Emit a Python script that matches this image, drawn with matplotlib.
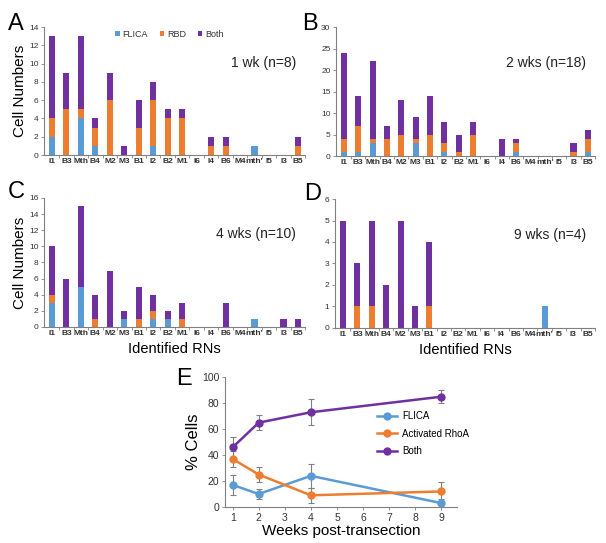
import numpy as np
import matplotlib
matplotlib.use("Agg")
import matplotlib.pyplot as plt
from matplotlib import font_manager
from matplotlib.lines import Line2D

plt.rcParams["font.family"] = ["Liberation Sans", "DejaVu Sans"]

# neuron labels on x axis
rns = ["I1", "B3", "Mth", "B4", "M2", "M3", "B1", "I2", "B2", "M1",
       "I6", "I4", "B6", "M4", "mth'", "I5", "I3", "B5"]

# stacked counts per panel: FLICA, RBD, Both
wk1_flica = [2, 0, 4, 1, 0, 0, 0, 1, 0, 0, 0, 0, 0, 0, 1, 0, 0, 0]
wk1_rbd = [2, 5, 1, 2, 6, 0, 3, 5, 4, 4, 0, 1, 1, 0, 0, 0, 0, 1]
wk1_both = [9, 4, 8, 1, 3, 1, 3, 2, 1, 1, 0, 1, 1, 0, 0, 0, 0, 1]

wk2_flica = [1, 1, 3, 0, 0, 3, 0, 1, 0, 0, 0, 0, 1, 0, 0, 0, 0, 1]
wk2_rbd = [3, 6, 1, 4, 5, 1, 5, 2, 1, 5, 0, 0, 2, 0, 0, 0, 1, 3]
wk2_both = [20, 7, 18, 3, 8, 5, 9, 5, 4, 3, 0, 4, 1, 0, 0, 0, 2, 2]

wk4_flica = [3, 0, 5, 0, 0, 1, 0, 1, 1, 0, 0, 0, 0, 0, 1, 0, 0, 0]
wk4_rbd = [1, 0, 0, 1, 0, 0, 1, 1, 0, 1, 0, 0, 0, 0, 0, 0, 0, 0]
wk4_both = [6, 6, 10, 3, 7, 1, 4, 2, 1, 2, 0, 0, 3, 0, 0, 0, 1, 1]

wk9_flica = [0, 0, 0, 0, 0, 0, 0, 0, 0, 0, 0, 0, 0, 0, 1, 0, 0, 0]
wk9_rbd = [0, 1, 1, 0, 0, 0, 1, 0, 0, 0, 0, 0, 0, 0, 0, 0, 0, 0]
wk9_both = [5, 2, 4, 2, 5, 1, 3, 0, 0, 0, 0, 0, 0, 0, 0, 0, 0, 0]

# panel E time course
weeks = [1, 2, 4, 9]
flica_pct = [17, 10, 24, 3]
flica_err = [8, 3.5, 9, 3]
rhoa_pct = [37, 25, 9, 12]
rhoa_err = [6, 6, 6, 7]
both_pct = [46, 65, 73, 85]
both_err = [8, 6, 10, 5]

BLUE = "#5b9bd5"
ORANGE = "#ed7d31"
PURPLE = "#7030a0"
GRAY = "#808080"
TXT = "#333333"

# condensed font for the crowded RN labels, if there is one
installed = {f.name for f in font_manager.fontManager.ttflist}
if "Liberation Sans Narrow" in installed:
    rn_font, rn_size = "Liberation Sans Narrow", 6.3
else:
    rn_font, rn_size = "Liberation Sans", 5.4

fig = plt.figure(figsize=(6.06, 5.43), dpi=100)


def style_axis(ax, size):
    for s in ["top", "right"]:
        ax.spines[s].set_visible(False)
    for s in ["left", "bottom"]:
        ax.spines[s].set_color(GRAY)
        ax.spines[s].set_linewidth(0.8)
    ax.tick_params(labelcolor=TXT, labelsize=size, length=2.5, width=0.6,
                   color=GRAY, pad=1.5)


def bar_panel(rect, flica, rbd, both, ymax, ystep, note):
    ax = fig.add_axes(rect)
    x = np.arange(len(rns))
    f = np.array(flica)
    r = np.array(rbd)
    b = np.array(both)
    ax.bar(x, f, width=0.42, color=BLUE, label="FLICA")
    ax.bar(x, r, width=0.42, bottom=f, color=ORANGE, label="RBD")
    ax.bar(x, b, width=0.42, bottom=f + r, color=PURPLE, label="Both")
    ax.set_xlim(-0.55, len(rns) - 0.5)
    ax.set_ylim(0, ymax)
    ax.set_yticks(np.arange(0, ymax + 0.1, ystep))
    ax.set_xticks(x)
    ax.set_xticklabels(rns, fontsize=rn_size, fontweight="bold",
                       family=[rn_font, "DejaVu Sans"])
    ax.set_xticks(np.arange(len(rns)) + 0.5, minor=True)
    style_axis(ax, 6)
    ax.tick_params(axis="x", which="major", length=0, pad=2.5)
    ax.tick_params(axis="x", which="minor", length=2, color=GRAY)
    ax.text(0.965, 0.72, note, transform=ax.transAxes, ha="right",
            va="center", fontsize=10, color="#222222")
    return ax


axA = bar_panel([0.0726, 0.7145, 0.431, 0.2357], wk1_flica, wk1_rbd, wk1_both,
                14, 2, "1 wk (n=8)")
axB = bar_panel([0.5545, 0.7127, 0.4274, 0.2375], wk2_flica, wk2_rbd, wk2_both,
                30, 5, "2 wks (n=18)")
axC = bar_panel([0.0726, 0.3978, 0.431, 0.2376], wk4_flica, wk4_rbd, wk4_both,
                16, 2, "4 wks (n=10)")
axD = bar_panel([0.5528, 0.3960, 0.4290, 0.2375], wk9_flica, wk9_rbd, wk9_both,
                6, 1, "9 wks (n=4)")

legA = axA.legend(loc="upper center", bbox_to_anchor=(0.48, 1.04), ncol=3,
                  frameon=False, fontsize=6.5, handlelength=0.5,
                  handleheight=0.5, handletextpad=0.3, columnspacing=1.3)
for t in legA.get_texts():
    t.set_color(TXT)

for ax in (axA, axC):
    ax.set_ylabel("Cell Numbers", fontsize=11, labelpad=1.5)
for ax in (axC, axD):
    ax.set_xlabel("Identified RNs", fontsize=10.5, labelpad=3)

# panel E
axE = fig.add_axes([0.371, 0.0663, 0.383, 0.239])
ekw = dict(ecolor=GRAY, elinewidth=0.8, capsize=2.5, capthick=0.8,
           marker="o", markersize=5, linewidth=1.8)
axE.errorbar(weeks, flica_pct, yerr=flica_err, color=BLUE, **ekw)
axE.errorbar(weeks, rhoa_pct, yerr=rhoa_err, color=ORANGE, **ekw)
axE.errorbar(weeks, both_pct, yerr=both_err, color=PURPLE, **ekw)
axE.set_xlim(0.7, 9.6)
axE.set_ylim(0, 100)
axE.set_xticks(range(1, 10))
axE.set_yticks(range(0, 101, 20))
style_axis(axE, 7.5)
axE.set_ylabel("% Cells", fontsize=12, labelpad=1)
axE.set_xlabel("Weeks post-transection", fontsize=11, labelpad=1)
handles = [Line2D([], [], color=c, marker="o", markersize=5, linewidth=1.8)
           for c in (BLUE, ORANGE, PURPLE)]
axE.legend(handles, ["FLICA", "Activated RhoA", "Both"], loc="center left",
           bbox_to_anchor=(0.62, 0.565), frameon=False, fontsize=7,
           handlelength=2.0, handletextpad=0.5, labelspacing=0.75)

# panel letters
for lbl, (px, py) in zip("ABCDE", [(8, 30), (302, 30), (8, 198),
                                   (304, 200), (176, 385)]):
    fig.text(px / 606, 1 - py / 543, lbl, fontsize=17, ha="left",
             va="baseline")

fig.savefig("out.png", dpi=100)
